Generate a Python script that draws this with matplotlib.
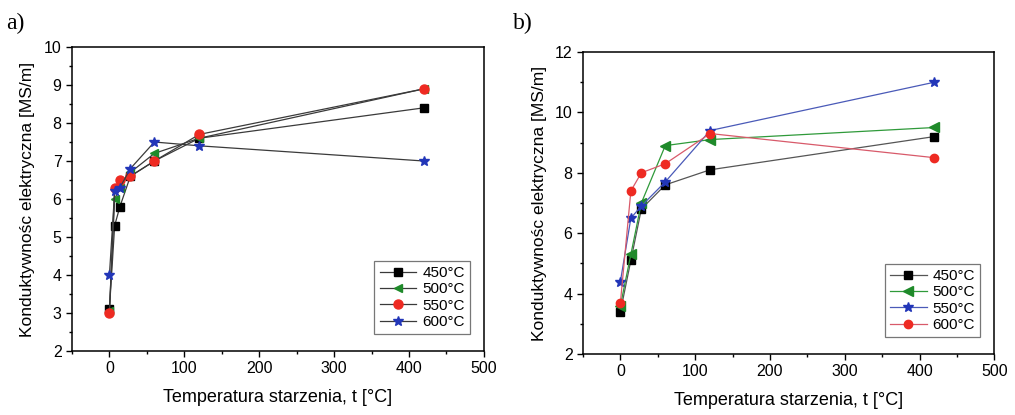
import numpy as np
import matplotlib
matplotlib.use('Agg')
import matplotlib.pyplot as plt
from matplotlib.ticker import MultipleLocator

plt.rcParams['font.family'] = ['Liberation Sans', 'DejaVu Sans']

# czas starzenia (os x)
t = [0, 7, 14, 28, 60, 120, 420]

# panel a)
a_450 = [3.1, 5.3, 5.8, 6.6, 7.0, 7.6, 8.4]
a_500 = [3.05, 6.0, 6.3, 6.7, 7.2, 7.6, 8.9]
a_550 = [3.0, 6.3, 6.5, 6.6, 7.0, 7.7, 8.9]
a_600 = [4.0, 6.2, 6.3, 6.8, 7.5, 7.4, 7.0]

# panel b)
t_b = [0, 14, 28, 60, 120, 420]
b_450 = [3.4, 5.1, 6.8, 7.6, 8.1, 9.2]
b_500 = [3.6, 5.3, 7.0, 8.9, 9.1, 9.5]
b_550 = [4.4, 6.5, 6.9, 7.7, 9.4, 11.0]
b_600 = [3.7, 7.4, 8.0, 8.3, 9.3, 8.5]

labels_a = ['450°C', '500°C', '550°C', '600°C']
labels_b = ['450°C', '500°C', '550°C', '600°C']

fig = plt.figure(figsize=(10.15, 4.15), dpi=100)
ax1 = fig.add_axes([0.0709, 0.1542, 0.4059, 0.7325])
ax2 = fig.add_axes([0.5744, 0.147, 0.4052, 0.7277])

# panel a - wszystkie linie szare
line_c = '#3a3a3a'
ax1.plot(t, a_450, color=line_c, lw=0.9, marker='s', ms=5.5, mfc='black', mec='black', label=labels_a[0])
ax1.plot(t, a_500, color=line_c, lw=0.9, marker='<', ms=5.5, mfc='#1f8a2a', mec='#1f8a2a', label=labels_a[1])
ax1.plot(t, a_550, color=line_c, lw=0.9, marker='o', ms=6.5, mfc='#ee2a22', mec='#ee2a22', label=labels_a[2])
ax1.plot(t, a_600, color=line_c, lw=0.9, marker='*', ms=7.5, mfc='#2236b8', mec='#2236b8', label=labels_a[3])
ax1.set_xlim(-50, 500)
ax1.set_ylim(2, 10)
ax1.yaxis.set_major_locator(MultipleLocator(1))
ax1.yaxis.set_minor_locator(MultipleLocator(0.5))

# panel b - linie kolorowe
ax2.plot(t_b, b_450, color='#555555', lw=0.9, marker='s', ms=5.5, mfc='black', mec='black', label=labels_b[0])
ax2.plot(t_b, b_500, color='#2f9a3a', lw=0.9, marker='<', ms=6.5, mfc='#1f8a2a', mec='#1f8a2a', label=labels_b[1])
ax2.plot(t_b, b_550, color='#4a5ab8', lw=0.9, marker='*', ms=7.5, mfc='#2236b8', mec='#2236b8', label=labels_b[2])
ax2.plot(t_b, b_600, color='#d85a6a', lw=0.9, marker='o', ms=6, mfc='#ee2a22', mec='#ee2a22', label=labels_b[3])
ax2.set_xlim(-50, 500)
ax2.set_ylim(2, 12)
ax2.yaxis.set_major_locator(MultipleLocator(2))
ax2.yaxis.set_minor_locator(MultipleLocator(1))

for ax in (ax1, ax2):
    ax.xaxis.set_major_locator(MultipleLocator(100))
    ax.xaxis.set_minor_locator(MultipleLocator(50))
    ax.tick_params(which='both', direction='out', labelsize=11.5, width=1)
    ax.tick_params(which='major', length=4)
    ax.tick_params(which='minor', length=2.5)
    for s in ax.spines.values():
        s.set_linewidth(1.1)
    ax.set_xlabel('Temperatura starzenia, t [°C]', fontsize=13, labelpad=9)
    ax.set_ylabel('Konduktywnośc elektryczna [MS/m]', fontsize=12.5, labelpad=6)
    leg = ax.legend(loc='lower right', fontsize=11, frameon=True, fancybox=False,
                    edgecolor='#555555', handlelength=2.4, handletextpad=0.4,
                    labelspacing=0.15, borderpad=0.35, bbox_to_anchor=(0.985, 0.03))
    leg.get_frame().set_linewidth(0.9)

fig.text(0.006, 0.93, 'a)', fontsize=17, family='Liberation Serif')
fig.text(0.505, 0.93, 'b)', fontsize=17, family='Liberation Serif')

plt.savefig('out.png', dpi=100)
